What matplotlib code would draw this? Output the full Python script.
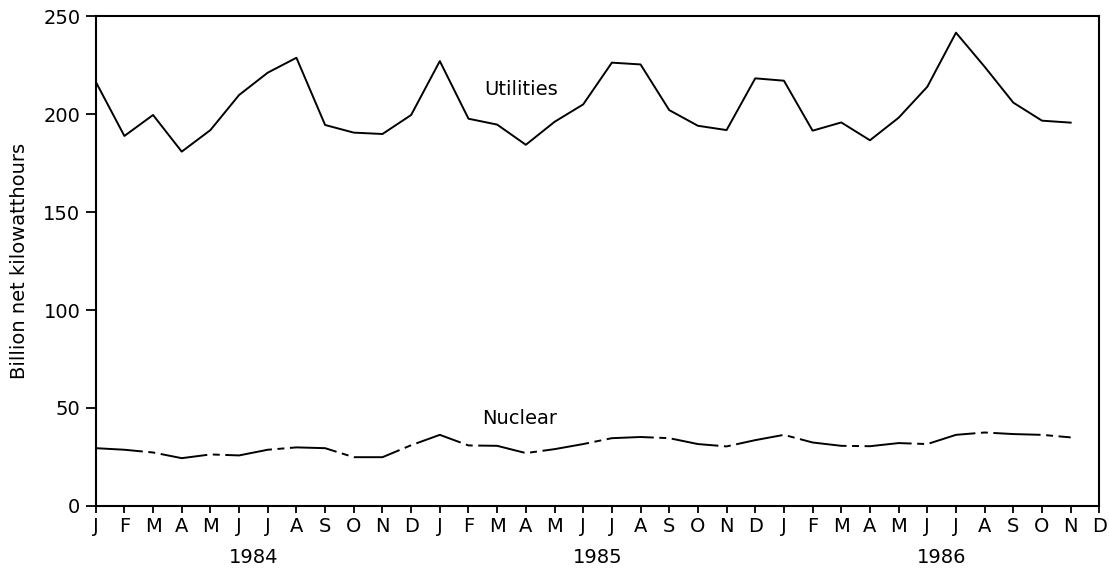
import matplotlib
matplotlib.use("Agg")
import matplotlib.pyplot as plt
import matplotlib.transforms as mtransforms

# monthly net generation, billion kWh (Jan 1984 - Nov 1986)
months = ['J', 'F', 'M', 'A', 'M', 'J', 'J', 'A', 'S', 'O', 'N', 'D']
years = ['1984', '1985', '1986']

utilities = [216.5, 188.8, 199.5, 180.8, 191.8, 209.7, 221.1, 228.7, 194.4, 190.5, 189.8, 199.5,
             227.0, 197.6, 194.6, 184.3, 196.0, 204.9, 226.2, 225.3, 202.0, 194.0, 191.8, 218.2,
             217.0, 191.5, 195.7, 186.6, 198.1, 213.9, 241.5, 224.1, 205.8, 196.6, 195.6]

nuclear = [29.5, 28.7, 27.3, 24.4, 26.3, 25.8, 28.7, 29.9, 29.5, 24.9, 24.9, 31.0,
           36.3, 30.9, 30.7, 27.0, 29.0, 31.6, 34.6, 35.2, 34.6, 31.6, 30.4, 33.6,
           36.3, 32.4, 30.7, 30.5, 32.1, 31.6, 36.3, 37.5, 36.7, 36.3, 35.0]

y_ticks = [0, 50, 100, 150, 200, 250]


def make_chart(path="out.png"):
    plt.rcParams['font.family'] = ['DejaVu Sans']
    plt.rcParams['lines.scale_dashes'] = False

    fig = plt.figure(figsize=(11.09, 5.72), dpi=100)
    ax = fig.add_axes([0.0863, 0.1154, 0.905, 0.8566])

    x = list(range(len(utilities)))
    ax.plot(x, utilities, color='black', lw=1.4)
    xn = list(range(len(nuclear)))
    line, = ax.plot(xn, nuclear, color='black', lw=1.4)
    line.set_dashes([34, 4, 5, 4])

    ax.text(14.85, 212.6, 'Utilities', fontsize=14, ha='center', va='center')
    ax.text(14.8, 44.5, 'Nuclear', fontsize=14, ha='center', va='center')

    ax.set_xlim(0, 35)
    ax.set_ylim(0, 250)

    ax.set_xticks(range(36))
    ax.set_xticklabels(months * len(years))
    ax.set_yticks(y_ticks)
    ax.tick_params(axis='x', direction='out', length=5, width=1.3, pad=3, labelsize=14)
    ax.tick_params(axis='y', direction='out', length=7, width=1.3, pad=4, labelsize=14)

    for s in ax.spines.values():
        s.set_linewidth(1.5)

    trans = mtransforms.blended_transform_factory(ax.transData, ax.transAxes)
    for i, yr in enumerate(years):
        ax.text(12 * i + 5.5, -0.1163, yr, transform=trans, fontsize=14,
                ha='center', va='baseline')

    fig.text(20 / 1109, 1 - 261 / 572, 'Billion net kilowatthours', rotation=90,
             fontsize=14, ha='center', va='center')

    fig.savefig(path, dpi=100)
    plt.close(fig)


make_chart()
